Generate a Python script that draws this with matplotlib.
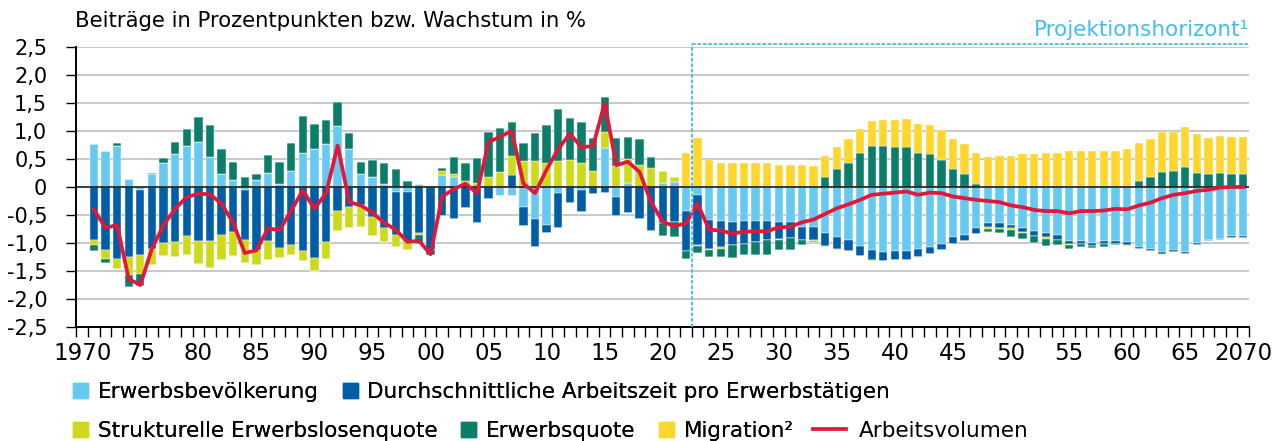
import matplotlib
matplotlib.use("Agg")
import matplotlib.pyplot as plt
import matplotlib.patches as mpatches
from matplotlib.lines import Line2D
import numpy as np

# Beiträge zum Arbeitsvolumen, 1971 - 2070
years = list(range(1971, 2071))

erwerbsbev = [
    0.76, 0.64, 0.73, 0.15, -0.05, 0.24, 0.42, 0.58, 0.74, 0.80,
    0.54, 0.23, 0.13, -0.05, 0.12, 0.25, 0.05, 0.28, 0.61, 0.67,
    0.76, 1.09, 0.67, 0.24, 0.18, 0.05, -0.09, -0.09, 0.06, 0.00,
    0.21, 0.18, 0.00, 0.00, 0.00, -0.16, -0.16, -0.36, -0.58, -0.67,
    -0.11, 0.00, -0.06, 0.00, 0.70, -0.18, 0.07, 0.00, 0.00, 0.07,
    0.09, -0.42, -0.15, -0.59, -0.61, -0.62, -0.61, -0.61, -0.61, -0.62,
    -0.62, -0.71, -0.71, -0.83, -0.90, -0.94, -1.05, -1.13, -1.16, -1.14,
    -1.14, -1.11, -1.07, -1.01, -0.90, -0.86, -0.73, -0.64, -0.65, -0.67,
    -0.73, -0.79, -0.82, -0.86, -0.96, -0.96, -1.00, -0.96, -0.96, -0.99,
    -1.07, -1.11, -1.16, -1.12, -1.16, -1.00, -0.94, -0.92, -0.88, -0.88,
]
arbeitszeit = [
    -0.95, -1.13, -1.28, -1.25, -1.17, -1.10, -1.00, -0.98, -0.88, -0.97,
    -0.97, -0.85, -0.80, -0.90, -1.12, -0.96, -1.09, -1.04, -1.14, -1.27,
    -0.99, -0.42, -0.36, -0.33, -0.54, -0.74, -0.77, -0.88, -0.82, -1.13,
    -0.51, -0.58, -0.38, -0.65, -0.21, 0.00, 0.21, -0.33, -0.49, -0.16,
    -0.63, -0.28, -0.39, -0.13, -0.10, -0.33, -0.46, -0.58, -0.79, -0.65,
    -0.62, -0.73, -0.89, -0.51, -0.46, -0.42, -0.40, -0.37, -0.34, -0.31,
    -0.29, -0.23, -0.24, -0.22, -0.20, -0.20, -0.18, -0.18, -0.17, -0.16,
    -0.16, -0.14, -0.13, -0.12, -0.11, -0.11, -0.11, -0.08, -0.08, -0.07,
    -0.07, -0.08, -0.08, -0.08, -0.05, -0.05, -0.05, -0.05, -0.05, -0.04,
    -0.04, -0.04, -0.04, -0.04, -0.03, -0.03, -0.02, -0.03, -0.03, -0.03,
]
erwerbslosenquote = [
    -0.09, -0.15, -0.18, -0.33, -0.34, -0.29, -0.24, -0.27, -0.33, -0.40,
    -0.47, -0.46, -0.43, -0.40, -0.27, -0.35, -0.17, -0.18, -0.18, -0.23,
    -0.30, -0.36, -0.37, -0.39, -0.33, -0.24, -0.21, -0.15, -0.04, 0.02,
    0.07, 0.06, 0.11, 0.07, 0.17, 0.26, 0.35, 0.46, 0.46, 0.43,
    0.46, 0.49, 0.42, 0.29, 0.29, 0.37, 0.43, 0.40, 0.34, 0.21,
    0.09, 0.00, -0.02, -0.03, -0.03, 0.00, 0.00, 0.00, 0.00, -0.02,
    0.00, 0.00, -0.02, -0.02, -0.02, 0.00, 0.00, -0.02, 0.00, 0.00,
    0.00, 0.00, 0.00, 0.00, 0.00, 0.00, 0.00, -0.03, -0.02, -0.02,
    -0.02, -0.01, -0.02, 0.00, -0.03, 0.00, 0.00, 0.00, 0.00, -0.02,
    0.00, 0.00, -0.01, 0.00, 0.00, 0.00, 0.00, 0.00, 0.00, 0.00,
]
erwerbsquote = [
    -0.11, -0.08, 0.05, -0.21, -0.20, 0.01, 0.09, 0.22, 0.30, 0.45,
    0.57, 0.44, 0.32, 0.18, 0.12, 0.32, 0.39, 0.51, 0.66, 0.45,
    0.44, 0.43, 0.29, 0.21, 0.31, 0.37, 0.33, 0.10, -0.15, -0.09,
    0.06, 0.30, 0.32, 0.45, 0.82, 0.80, 0.60, 0.32, 0.51, 0.67,
    0.93, 0.74, 0.74, 0.59, 0.61, 0.51, 0.40, 0.46, 0.20, -0.23,
    -0.28, -0.13, -0.12, -0.12, -0.15, -0.23, -0.21, -0.24, -0.27, -0.18,
    -0.22, -0.09, -0.02, 0.18, 0.33, 0.43, 0.60, 0.73, 0.74, 0.71,
    0.72, 0.60, 0.58, 0.49, 0.32, 0.23, 0.05, -0.06, -0.07, -0.13,
    -0.11, -0.12, -0.13, -0.09, -0.07, -0.06, -0.04, -0.06, -0.03, 0.00,
    0.11, 0.17, 0.27, 0.28, 0.35, 0.25, 0.23, 0.25, 0.24, 0.24,
]
migration = [0.0] * 51 + [
    0.61, 0.87, 0.48, 0.43, 0.43, 0.43, 0.43, 0.42, 0.40,
    0.39, 0.39, 0.38, 0.37, 0.39, 0.42, 0.43, 0.45, 0.46, 0.48,
    0.50, 0.52, 0.53, 0.53, 0.53, 0.54, 0.55, 0.54, 0.55, 0.55,
    0.58, 0.58, 0.60, 0.61, 0.64, 0.64, 0.64, 0.64, 0.65, 0.67,
    0.68, 0.68, 0.71, 0.71, 0.72, 0.69, 0.65, 0.66, 0.66, 0.66,
]
arbeitsvolumen = [
    -0.40, -0.73, -0.68, -1.64, -1.75, -1.10, -0.68, -0.39, -0.18, -0.12,
    -0.13, -0.30, -0.64, -1.18, -1.13, -0.74, -0.77, -0.42, -0.06, -0.39,
    -0.11, 0.74, -0.27, -0.33, -0.46, -0.64, -0.76, -0.98, -0.96, -1.20,
    -0.17, -0.04, 0.06, -0.11, 0.80, 0.90, 1.00, 0.06, -0.11, 0.31,
    0.68, 0.95, 0.71, 0.73, 1.50, 0.39, 0.45, 0.27, -0.27, -0.62,
    -0.70, -0.65, -0.30, -0.76, -0.78, -0.83, -0.80, -0.79, -0.79, -0.72,
    -0.71, -0.63, -0.58, -0.48, -0.38, -0.31, -0.23, -0.14, -0.12, -0.10,
    -0.08, -0.14, -0.10, -0.11, -0.17, -0.20, -0.23, -0.25, -0.27, -0.33,
    -0.36, -0.41, -0.43, -0.43, -0.47, -0.43, -0.43, -0.42, -0.39, -0.40,
    -0.33, -0.28, -0.20, -0.14, -0.11, -0.07, -0.05, -0.01, 0.00, 0.00,
]

labels = ["Erwerbsbevölkerung", "Durchschnittliche Arbeitszeit pro Erwerbstätigen",
          "Strukturelle Erwerbslosenquote", "Erwerbsquote", "Migration²"]
colours = ["#66C9F2", "#005EA6", "#CDDA1A", "#0B7D6B", "#FFD62C"]
red = "#E2173C"
proj = "#45BDEB"

plt.rcParams["font.family"] = ["DejaVu Sans"]

fig = plt.figure(figsize=(12.85, 4.41), dpi=100)
ax = fig.add_axes([0.0595, 0.2585, 0.9125, 0.635])

x = np.array(years)
series = [erwerbsbev, arbeitszeit, erwerbslosenquote, erwerbsquote, migration]
pos_base = np.zeros(len(x))
neg_base = np.zeros(len(x))
for vals, col in zip(series, colours):
    v = np.array(vals)
    p = np.where(v > 0, v, 0)
    n = np.where(v < 0, v, 0)
    ax.bar(x, p, bottom=pos_base, width=0.72, color=col, edgecolor="white",
           linewidth=0.3, zorder=3)
    ax.bar(x, n, bottom=neg_base, width=0.72, color=col, edgecolor="white",
           linewidth=0.3, zorder=3)
    pos_base += p
    neg_base += n

ax.plot(x, arbeitsvolumen, color=red, lw=2.7, zorder=5, solid_joinstyle="round")

# axes styling
ax.set_xlim(1969.5, 2070.5)
ax.set_ylim(-2.5, 2.5)
yt = np.arange(-2.5, 2.51, 0.5)
ax.set_yticks(yt)
ax.set_yticklabels(["0" if abs(t) < 1e-9 else ("%.1f" % t).replace(".", ",") for t in yt],
                   fontsize=15)
for t in yt:
    if abs(t) > 1e-9 and t > -2.5:
        ax.axhline(t, color="#C8C8C8", lw=1.4, zorder=1)
ax.axhline(0, color="#1a1a1a", lw=1.2, zorder=4)

xt = list(range(1970, 2071, 5))
ax.set_xticks(xt)
ax.set_xticklabels(["1970"] + ["%02d" % (t % 100) for t in xt[1:-1]] + ["2070"],
                   fontsize=16.5)
ax.set_xticks(np.arange(1969.5, 2071, 1), minor=True)
ax.tick_params(axis="x", which="major", length=0, pad=11)
ax.tick_params(axis="x", which="minor", length=7, width=1, direction="out")
ax.tick_params(axis="y", length=7, width=1, pad=14)

for s in ["top", "right"]:
    ax.spines[s].set_visible(False)
ax.spines["left"].set_linewidth(1.4)
ax.spines["bottom"].set_linewidth(1.4)

# Projektionshorizont
ytop = 2.56
ax.plot([2022.5, 2022.5], [-2.5, ytop], color=proj, lw=1.3, ls=(0, (2, 1)),
        clip_on=False, zorder=6)
ax.plot([2022.5, 2070.5], [ytop, ytop], color=proj, lw=1.3, ls=(0, (2, 1)),
        clip_on=False, zorder=6)
ax.text(2070.5, 2.62, "Projektionshorizont¹", color=proj, fontsize=15.5,
        ha="right", va="bottom")

fig.text(0.058, 0.952, "Beiträge in Prozentpunkten bzw. Wachstum in %",
         fontsize=15.2, va="center", ha="left")

# legends
leg_kw = dict(loc="center left", frameon=False, fontsize=15.5, handlelength=0.7,
              handleheight=0.7, handletextpad=0.45, columnspacing=1.1,
              borderpad=0, borderaxespad=0)
h1 = [mpatches.Patch(color=colours[0], label=labels[0]),
      mpatches.Patch(color=colours[1], label=labels[1])]
h2 = [mpatches.Patch(color=colours[2], label=labels[2]),
      mpatches.Patch(color=colours[3], label=labels[3]),
      mpatches.Patch(color=colours[4], label=labels[4])]
h3 = [Line2D([0], [0], color=red, lw=2.7, label="Arbeitsvolumen")]
leg1 = fig.legend(handles=h1, bbox_to_anchor=(0.057, 0.111), ncol=2, **leg_kw)
fig.add_artist(leg1)
leg2 = fig.legend(handles=h2, bbox_to_anchor=(0.057, 0.023), ncol=3, **leg_kw)
fig.add_artist(leg2)
leg_kw.update(handlelength=1.5, handletextpad=0.6)
fig.legend(handles=h3, bbox_to_anchor=(0.633, 0.023), **leg_kw)

fig.savefig("out.png", dpi=100)
